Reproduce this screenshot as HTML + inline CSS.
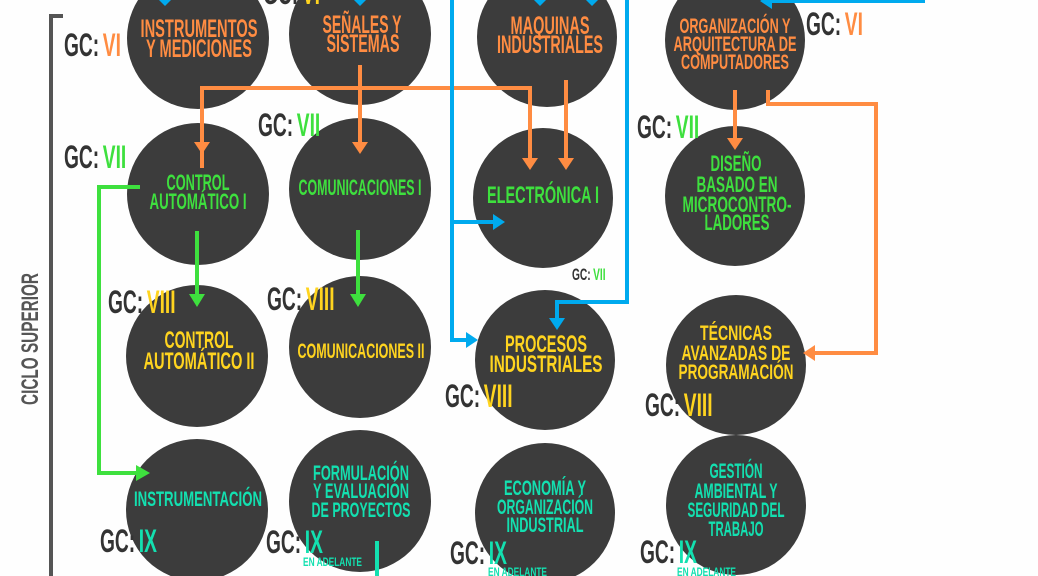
<!DOCTYPE html>
<html><head><meta charset="utf-8"><style>
html,body{margin:0;padding:0;background:#fff;}
svg{display:block;}
text{font-family:"Liberation Sans Narrow","Liberation Sans",sans-serif;font-weight:bold;}
</style></head><body>
<svg width="1038" height="576" viewBox="0 0 1038 576" xmlns="http://www.w3.org/2000/svg">
<rect width="1038" height="576" fill="#fefefe"/>
<path d="M63 16 H51 V576" fill="none" stroke="#555" stroke-width="4"/>
<text x="0" y="0" transform="translate(38,339) rotate(-90)" font-size="24" fill="#555" text-anchor="middle" textLength="132" lengthAdjust="spacingAndGlyphs">CICLO SUPERIOR</text>

<g fill="#3c3c3c">
<circle cx="198" cy="38" r="71"/>
<circle cx="360" cy="34" r="71"/>
<circle cx="547" cy="37" r="70"/>
<circle cx="735" cy="40" r="70"/>
<circle cx="198" cy="194" r="71"/>
<circle cx="360" cy="189" r="71"/>
<circle cx="543" cy="198" r="70"/>
<circle cx="735" cy="196" r="70"/>
<circle cx="197" cy="356" r="71"/>
<circle cx="360" cy="347" r="71"/>
<circle cx="545" cy="360" r="70"/>
<circle cx="736" cy="365" r="70"/>
<circle cx="197" cy="510" r="71"/>
<circle cx="360" cy="501" r="71"/>
<circle cx="545" cy="513" r="70"/>
<circle cx="736" cy="505" r="70"/>
</g>

<g text-anchor="middle">
<g fill="#ff8c42" font-size="25">
<text x="199" y="37" textLength="117" lengthAdjust="spacingAndGlyphs">INSTRUMENTOS</text>
<text x="199" y="57" textLength="106" lengthAdjust="spacingAndGlyphs">Y MEDICIONES</text>
<text x="362" y="33" textLength="79" lengthAdjust="spacingAndGlyphs">SEÑALES Y</text>
<text x="363" y="52" textLength="73" lengthAdjust="spacingAndGlyphs">SISTEMAS</text>
<text x="550" y="34" textLength="79" lengthAdjust="spacingAndGlyphs">MAQUINAS</text>
<text x="550" y="53" textLength="106" lengthAdjust="spacingAndGlyphs">INDUSTRIALES</text>
</g>
<g fill="#ff8c42" font-size="21">
<text x="735" y="33" textLength="111" lengthAdjust="spacingAndGlyphs">ORGANIZACIÓN Y</text>
<text x="735" y="51" textLength="123" lengthAdjust="spacingAndGlyphs">ARQUITECTURA DE</text>
<text x="735" y="69" textLength="108" lengthAdjust="spacingAndGlyphs">COMPUTADORES</text>
</g>
<g fill="#3ee03e" font-size="22">
<text x="198" y="190" textLength="63" lengthAdjust="spacingAndGlyphs">CONTROL</text>
<text x="198" y="209" textLength="97" lengthAdjust="spacingAndGlyphs">AUTOMÁTICO I</text>
<text x="360" y="195" textLength="123" lengthAdjust="spacingAndGlyphs">COMUNICACIONES I</text>
<text x="543" y="203" font-size="24" textLength="112" lengthAdjust="spacingAndGlyphs">ELECTRÓNICA I</text>
<text x="736" y="171" textLength="51" lengthAdjust="spacingAndGlyphs">DISEÑO</text>
<text x="737" y="192" textLength="81" lengthAdjust="spacingAndGlyphs">BASADO EN</text>
<text x="737" y="212" textLength="109" lengthAdjust="spacingAndGlyphs">MICROCONTRO-</text>
<text x="737" y="230" textLength="65" lengthAdjust="spacingAndGlyphs">LADORES</text>
</g>
<g fill="#ffd41f" font-size="24">
<text x="199" y="348" textLength="69" lengthAdjust="spacingAndGlyphs">CONTROL</text>
<text x="199" y="369" textLength="111" lengthAdjust="spacingAndGlyphs">AUTOMÁTICO II</text>
<text x="361" y="358" font-size="21" textLength="127" lengthAdjust="spacingAndGlyphs">COMUNICACIONES II</text>
<text x="546" y="352" textLength="82" lengthAdjust="spacingAndGlyphs">PROCESOS</text>
<text x="546" y="372" textLength="113" lengthAdjust="spacingAndGlyphs">INDUSTRIALES</text>
<text x="736" y="340" font-size="21" textLength="72" lengthAdjust="spacingAndGlyphs">TÉCNICAS</text>
<text x="736" y="360" font-size="21" textLength="109" lengthAdjust="spacingAndGlyphs">AVANZADAS DE</text>
<text x="736" y="379" font-size="21" textLength="115" lengthAdjust="spacingAndGlyphs">PROGRAMACIÓN</text>
</g>
<g fill="#13e0b0" font-size="21">
<text x="198" y="506" textLength="128" lengthAdjust="spacingAndGlyphs">INSTRUMENTACIÓN</text>
<text x="361" y="480" textLength="96" lengthAdjust="spacingAndGlyphs">FORMULACIÓN</text>
<text x="361" y="498" textLength="96" lengthAdjust="spacingAndGlyphs">Y EVALUACIÓN</text>
<text x="361" y="517" textLength="99" lengthAdjust="spacingAndGlyphs">DE PROYECTOS</text>
<text x="545" y="495" textLength="82" lengthAdjust="spacingAndGlyphs">ECONOMÍA Y</text>
<text x="545" y="514" textLength="96" lengthAdjust="spacingAndGlyphs">ORGANIZACIÓN</text>
<text x="545" y="532" textLength="77" lengthAdjust="spacingAndGlyphs">INDUSTRIAL</text>
<text x="736" y="478" textLength="53" lengthAdjust="spacingAndGlyphs">GESTIÓN</text>
<text x="736" y="498" textLength="83" lengthAdjust="spacingAndGlyphs">AMBIENTAL Y</text>
<text x="736" y="517" textLength="97" lengthAdjust="spacingAndGlyphs">SEGURIDAD DEL</text>
<text x="736" y="536" textLength="55" lengthAdjust="spacingAndGlyphs">TRABAJO</text>
</g>
</g>

<g fill="none" stroke-width="4">
<path d="M202 168 V88 H530 V160" stroke="#ff8c42"/>
<path d="M360 65 V148" stroke="#ff8c42"/>
<path d="M566 80 V160" stroke="#ff8c42"/>
<path d="M735 90 V140" stroke="#ff8c42"/>
<path d="M768 90 V104 H876 V353 H812" stroke="#ff8c42"/>
<path d="M452 0 V340 H468" stroke="#00aaee"/>
<path d="M452 222 H495" stroke="#00aaee"/>
<path d="M627 0 V302 H557 V320" stroke="#00aaee"/>
<path d="M925 1 H770" stroke="#00aaee"/>
<path d="M140 187 H99 V473 H138" stroke="#3ee03e"/>
<path d="M197 231 V296" stroke="#3ee03e"/>
<path d="M358 230 V296" stroke="#3ee03e"/>
<path d="M377 541 V576" stroke="#13e0b0"/>
</g>
<g fill="#ff8c42">
<polygon points="194,142 210,142 202,154"/>
<polygon points="352,142 368,142 360,154"/>
<polygon points="522,158 538,158 530,170"/>
<polygon points="558,158 574,158 566,170"/>
<polygon points="727,138 743,138 735,150"/>
<polygon points="815,345 815,361 803,353"/>
</g>
<g fill="#00aaee">
<polygon points="466,332 466,348 478,340"/>
<polygon points="493,214 493,230 505,222"/>
<polygon points="549,318 565,318 557,330"/>
<polygon points="772,-7 772,9 760,1"/>
<polygon points="159,0 171,0 165,6"/>
<polygon points="354,0 366,0 360,6"/>
<polygon points="534,0 546,0 540,6"/>
<polygon points="586,0 598,0 592,6"/>
</g>
<g fill="#3ee03e">
<polygon points="136,465 136,481 150,473"/>
<polygon points="189,294 205,294 197,307"/>
<polygon points="350,294 366,294 358,307"/>
</g>

<g font-size="32">
<g transform="translate(64,56) scale(0.6,1)"><text><tspan fill="#333">GC:</tspan><tspan fill="#ff8c42" dx="6">VI</tspan></text></g>
<g transform="translate(263,4) scale(0.6,1)"><text><tspan fill="#333">GC:</tspan><tspan fill="#ffd41f" dx="6">VI</tspan></text></g>
<g transform="translate(806,35) scale(0.6,1)"><text><tspan fill="#333">GC:</tspan><tspan fill="#ff8c42" dx="6">VI</tspan></text></g>
<g transform="translate(64,168) scale(0.6,1)"><text><tspan fill="#333">GC:</tspan><tspan fill="#3ee03e" dx="6">VII</tspan></text></g>
<g transform="translate(258,136) scale(0.6,1)"><text><tspan fill="#333">GC:</tspan><tspan fill="#3ee03e" dx="6">VII</tspan></text></g>
<g transform="translate(637,138) scale(0.6,1)"><text><tspan fill="#333">GC:</tspan><tspan fill="#3ee03e" dx="6">VII</tspan></text></g>
<g transform="translate(108,313) scale(0.6,1)"><text><tspan fill="#333">GC:</tspan><tspan fill="#ffd41f" dx="6">VIII</tspan></text></g>
<g transform="translate(267,310) scale(0.6,1)"><text><tspan fill="#333">GC:</tspan><tspan fill="#ffd41f" dx="6">VIII</tspan></text></g>
<g transform="translate(445,407) scale(0.6,1)"><text><tspan fill="#333">GC:</tspan><tspan fill="#ffd41f" dx="6">VIII</tspan></text></g>
<g transform="translate(645,416) scale(0.6,1)"><text><tspan fill="#333">GC:</tspan><tspan fill="#ffd41f" dx="6">VIII</tspan></text></g>
<g transform="translate(100,552) scale(0.6,1)"><text><tspan fill="#333">GC:</tspan><tspan fill="#13e0b0" dx="6">IX</tspan></text></g>
<g transform="translate(266,553) scale(0.6,1)"><text><tspan fill="#333">GC:</tspan><tspan fill="#13e0b0" dx="6">IX</tspan></text></g>
<g transform="translate(450,564) scale(0.6,1)"><text><tspan fill="#333">GC:</tspan><tspan fill="#13e0b0" dx="6">IX</tspan></text></g>
<g transform="translate(640,563) scale(0.6,1)"><text><tspan fill="#333">GC:</tspan><tspan fill="#13e0b0" dx="6">IX</tspan></text></g>
</g>
<g transform="translate(572,280) scale(0.6,1)"><text font-size="17"><tspan fill="#333">GC:</tspan><tspan fill="#3ee03e" dx="4">VII</tspan></text></g>
<g font-size="12" fill="#13e0b0">
<text x="303" y="566" textLength="59" lengthAdjust="spacingAndGlyphs">EN ADELANTE</text>
<text x="488" y="576" textLength="59" lengthAdjust="spacingAndGlyphs">EN ADELANTE</text>
<text x="677" y="576" textLength="59" lengthAdjust="spacingAndGlyphs">EN ADELANTE</text>
</g>
</svg>
</body></html>
